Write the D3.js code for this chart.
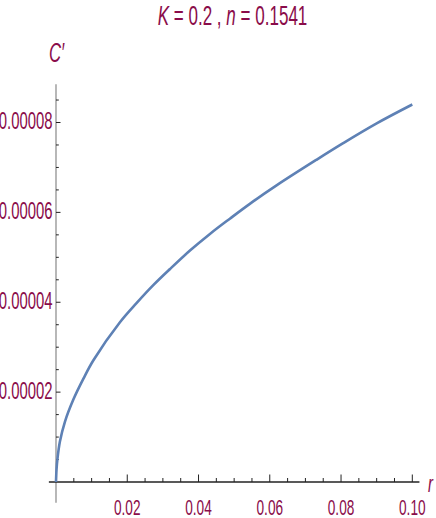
<!DOCTYPE html>
<html lang="en">
<head>
  <meta charset="UTF-8">
  <title>C' against r</title>
  <script src="https://d3js.org/d3.v7.min.js"></script>
  <style>
    body { margin: 0; background: #fff; }
    text { font-family: "Liberation Sans", Arial, sans-serif; fill: #8a0c4a; }
  </style>
</head>
<body>
<script>
// values
const rValues = [0, 0.00015, 0.0004, 0.0011, 0.0025, 0.0049, 0.0077, 0.0105, 0.018, 0.0226, 0.0273,
                 0.032, 0.0376, 0.0432, 0.0488, 0.0544, 0.0619, 0.0731, 0.0806, 0.09, 0.1];
const cValues = [0, 2.8e-6, 5.1e-6, 9.0e-6, 13.4e-6, 18.4e-6, 23.0e-6, 27.1e-6, 35.6e-6, 39.8e-6, 43.8e-6,
                 47.4e-6, 51.5e-6, 55.2e-6, 58.6e-6, 61.9e-6, 66.0e-6, 71.7e-6, 75.4e-6, 79.8e-6, 84.0e-6];
const rTicks = [0.02, 0.04, 0.06, 0.08, 0.10];
const rTickLabels = ["0.02", "0.04", "0.06", "0.08", "0.10"];
const cTicks = [0.00002, 0.00004, 0.00006, 0.00008];
const cTickLabels = ["0.00002", "0.00004", "0.00006", "0.00008"];
const rMinor = d3.range(1, 21).map(i => i * 0.005).filter(v => rTicks.every(t => Math.abs(t - v) > 1e-9));
const cMinor = d3.range(1, 18).map(i => i * 0.000005).filter(v => cTicks.every(t => Math.abs(t - v) > 1e-12));

const width = 436, height = 518;
const sx = 0.62; // narrow glyphs

const svg = d3.select("body").append("svg")
  .attr("width", width)
  .attr("height", height);

const x = d3.scaleLinear().domain([0, 0.1]).range([56, 412.3]);
const y = d3.scaleLinear().domain([0, 0.00008]).range([482, 122.5]);

// axis lines
svg.append("line")
  .attr("x1", x(0)).attr("x2", x(0))
  .attr("y1", y(-0.0000046)).attr("y2", y(0.0000885))
  .attr("stroke", "#a6a6a6").attr("stroke-width", 1.6);
svg.append("line")
  .attr("x1", x(-0.002)).attr("x2", x(0.102))
  .attr("y1", y(0)).attr("y2", y(0))
  .attr("stroke", "#222").attr("stroke-width", 1.6);

// y ticks (pointing right)
svg.selectAll(".ymaj").data(cTicks).enter().append("line")
  .attr("x1", x(0)).attr("x2", x(0) + 4.5)
  .attr("y1", d => y(d)).attr("y2", d => y(d))
  .attr("stroke", "#222").attr("stroke-width", 1);
svg.selectAll(".ymin").data(cMinor).enter().append("line")
  .attr("x1", x(0)).attr("x2", x(0) + 2.8)
  .attr("y1", d => y(d)).attr("y2", d => y(d))
  .attr("stroke", "#222").attr("stroke-width", 1);

// x ticks (pointing up)
svg.selectAll(".xmaj").data(rTicks).enter().append("line")
  .attr("x1", d => x(d)).attr("x2", d => x(d))
  .attr("y1", y(0)).attr("y2", y(0) - 7.5)
  .attr("stroke", "#222").attr("stroke-width", 1);
svg.selectAll(".xmin").data(rMinor).enter().append("line")
  .attr("x1", d => x(d)).attr("x2", d => x(d))
  .attr("y1", y(0)).attr("y2", y(0) - 4)
  .attr("stroke", "#222").attr("stroke-width", 1);

// tick labels
svg.selectAll(".ylab").data(cTicks).enter().append("text")
  .attr("transform", d => `translate(52.5,${y(d) + 6.8}) scale(${sx},1)`)
  .attr("text-anchor", "end")
  .attr("font-size", 24)
  .text((d, i) => cTickLabels[i]);
svg.selectAll(".xlab").data(rTicks).enter().append("text")
  .attr("transform", d => `translate(${x(d)},515) scale(${sx},1)`)
  .attr("text-anchor", "middle")
  .attr("font-size", 22)
  .text((d, i) => rTickLabels[i]);

// curve
const line = d3.line()
  .x((d, i) => x(rValues[i]))
  .y(d => y(d))
  .curve(d3.curveCatmullRom.alpha(0.5));
svg.append("path")
  .datum(cValues)
  .attr("fill", "none")
  .attr("stroke", "#5e81b5")
  .attr("stroke-width", 2.6)
  .attr("d", line);

// axis names
svg.append("text")
  .attr("transform", `translate(49,62) scale(${sx},1)`)
  .attr("font-size", 27)
  .attr("font-style", "italic")
  .text("C′");
svg.append("text")
  .attr("transform", `translate(428,492) scale(${sx},1)`)
  .attr("font-size", 24)
  .attr("font-style", "italic")
  .text("r");

// title
const title = svg.append("text")
  .attr("transform", `translate(232.5,25) scale(${sx},1)`)
  .attr("text-anchor", "middle")
  .attr("font-size", 27.5);
title.append("tspan").attr("font-style", "italic").text("K");
title.append("tspan").text(" = 0.2 ,  ");
title.append("tspan").attr("font-style", "italic").text("n");
title.append("tspan").text(" = 0.1541");
</script>
</body>
</html>
